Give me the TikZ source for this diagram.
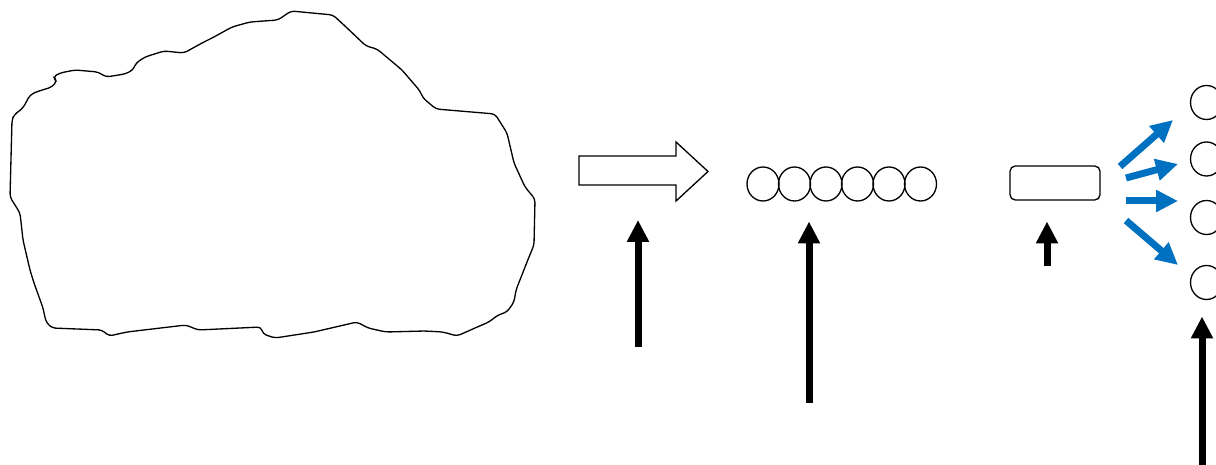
\documentclass[tikz,border=0pt]{standalone}
\usetikzlibrary{arrows.meta,shapes.geometric}
\definecolor{fanblue}{RGB}{0,112,192}
\begin{document}
\begin{tikzpicture}[x=0.02cm,y=-0.02cm,line width=0.75pt,
  unit/.style={draw,ellipse,inner sep=0pt,minimum width=0.64cm,minimum height=0.68cm},
  fat/.style={line width=0.14cm,-{Triangle[length=0.44cm,width=0.42cm]}},>=Stealth]
\clip (0,0) rectangle (1216,465);
% cloud
\draw[rounded corners=2pt] (278,20) -- (291,11) -- (333,15) -- (346,27) -- (366,46) -- (377,49) -- (402,70) -- (420,91) -- (423,98) -- (436,109) -- (495,114) -- (507,133) -- (514,163) -- (525,187) -- (535,199) -- (534,245) -- (529,257) -- (516,290) -- (514,302) -- (507,312) -- (498,315) -- (489,322) -- (475,328) -- (457,336) -- (443,332) -- (425,331) -- (386,332) -- (368,328) -- (357,322) -- (314,332) -- (275,338) -- (263,334) -- (261,327) -- (198,330) -- (186,325) -- (127,332) -- (109,336) -- (102,330) -- (52,328) -- (46,322) -- (43,308) -- (34,283) -- (30,270) -- (23,240) -- (20,213) -- (10,197) -- (12,120) -- (14,115) -- (23,108) -- (30,95) -- (36,92) -- (52,87) -- (57,81) -- (53,77) -- (60,73) -- (75,70) -- (98,72) -- (106,77) -- (125,74) -- (133,70) -- (136,63) -- (145,57) -- (164,51) -- (184,53) -- (202,43) -- (214,37) -- (232,27) -- (250,22) -- cycle;
% hollow arrow
\draw (579,156) -- (676,156) -- (676,142) -- (708,171.5) -- (676,201) -- (676,185) -- (579,185) -- cycle;
% units
\foreach \i in {0,...,5} \node[unit] (u\i) at (763+31.5*\i,184) {};
\node[draw,rounded corners=3pt,minimum width=1.8cm,minimum height=0.68cm] (box) at (1055,183) {};
\foreach \i/\y in {1/102.5,2/159,3/217.5,4/282.5} \node[unit] (o\i) at (1206.5,\y) {};
% arrows
\coordinate (a1) at (638,347); \coordinate (a1t) at (638,220);
\coordinate (a2) at (809,403); \coordinate (a2t) at (809,221.5);
\coordinate (a3) at (1047,266.5); \coordinate (a3t) at (1047,221.5);
\coordinate (a4) at (1202,466); \coordinate (a4t) at (1202,316.5);
\foreach \i in {1,...,4} \draw[fat] (a\i)--(a\i t);
\coordinate (b1) at (1120,166.5); \coordinate (b1t) at (1173,120);
\coordinate (b2) at (1126,178); \coordinate (b2t) at (1178,164);
\coordinate (b3) at (1126,201); \coordinate (b3t) at (1178,201);
\coordinate (b4) at (1126,220.5); \coordinate (b4t) at (1178,265);
\foreach \i in {1,...,4} \draw[fat,fanblue] (b\i)--(b\i t);
\end{tikzpicture}
\end{document}
